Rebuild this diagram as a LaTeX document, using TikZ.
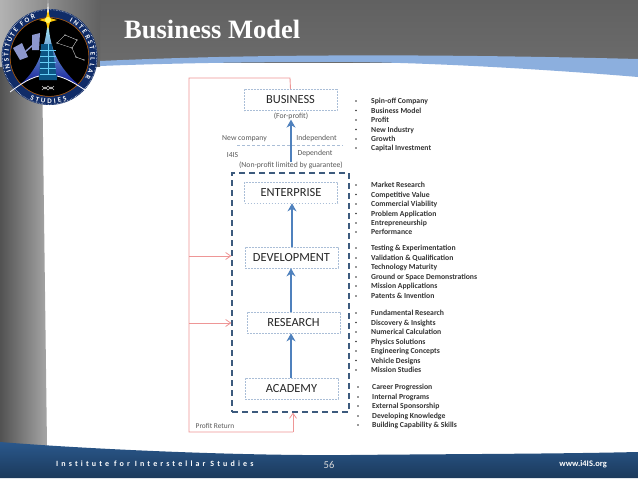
\documentclass[tikz,border=0pt]{standalone}
\usepackage{fontspec}
\setmainfont{Carlito}
\newfontfamily\titlefont{Liberation Serif}
\newfontfamily\spacedfont[LetterSpace=39,Ligatures=NoCommon]{Carlito}
\usetikzlibrary{arrows.meta,decorations.text}
\definecolor{slideblue}{RGB}{42,88,140}
\definecolor{stripeblue}{RGB}{140,175,222}
\definecolor{arrowblue}{RGB}{79,129,189}
\definecolor{boxblue}{RGB}{170,190,215}
\definecolor{frameblue}{RGB}{60,90,125}
\definecolor{returnred}{RGB}{238,150,150}
\definecolor{logonavy}{RGB}{16,44,104}
\definecolor{stationblue}{RGB}{140,150,205}
\tikzset{
  levelbox/.style={draw=boxblue, dash pattern=on 1.6pt off 1.4pt, line width=0.7pt, minimum width=93pt, minimum height=21pt, inner sep=0pt, font=\fontsize{12.4}{13}\selectfont, text=black!85},
  smalllabel/.style={font=\fontsize{7.7}{8}\selectfont, text=black!65, inner sep=0pt},
  itemlabel/.style={anchor=west, font=\fontsize{7.7}{8}\selectfont\bfseries, text=black!80, inner sep=0pt, text height=6.5pt, text depth=1pt},
  itemdot/.style={circle, fill=black!80, inner sep=0pt, minimum size=1.8pt},
  uparrow/.style={-{Stealth[length=8pt,width=9pt]}, line width=2.1pt, arrowblue},
  returnline/.style={returnred, line width=0.9pt},
  returnarrow/.style={returnred, line width=0.8pt, -{Straight Barb[length=5pt,width=7pt]}},
  ringtext/.style={postaction={decorate, decoration={text along path, text align=fit to path,
    text={|\fontsize{7}{8}\selectfont\bfseries\color{white}|#1}}}}
}
\begin{document}
\begin{tikzpicture}[x=1pt, y=-1pt]
  \useasboundingbox (0,0) rectangle (638,479);
  \fill[white] (0,0) rectangle (638,479);

  % slide background
  \shade[left color=black!68, right color=black!35] (0,60) -- (42,60) -- (47,446) -- (0,446) -- cycle;
  \shade[top color=black!62, bottom color=black!58] (100,0) rectangle (638,62);
  \shade[left color=black!30, right color=black!62] (0,0) rectangle (100,66);
  \fill[stripeblue] (100,61) .. controls (230,55) and (400,53) .. (638,59)
    -- (638,77) .. controls (530,68) and (400,61) .. (320,62) .. controls (230,62) and (150,64) .. (100,66) -- cycle;
  \shade[top color=slideblue, bottom color=slideblue!65!black] (0,442) .. controls (100,450) and (250,456) .. (350,455)
    .. controls (450,454) and (550,454) .. (638,452) -- (638,478) -- (0,478) -- cycle;

  % logo
  \fill[logonavy] (49.5,57) circle (48);
  \draw[white, densely dotted, line width=0.5pt] (49.5,57) circle (47.3);
  \fill[black] (49.5,57) circle (39);
  \draw[orange!70!black, line width=0.6pt] (49.5,57) circle (39.4);
  \shade[top color=white!70!cyan, bottom color=blue!55!black] (48,20) .. controls (50,45) and (54,66) .. (85,90)
    .. controls (70,80) and (60,75) .. (48,75) .. controls (36,75) and (26,80) .. (10,92) .. controls (32,78) and (44,60) .. (48,20) -- cycle;
  \draw[white, line width=0.8pt] (10,92) .. controls (26,80) and (36,75) .. (48,75) .. controls (60,75) and (70,80) .. (85,90);
  \fill[logonavy!80!cyan] (41,44) -- (52,44) -- (57,80) -- (39,80) -- cycle;
  \foreach \yv in {50,56,62,68,74} {
    \draw[cyan!60, line width=0.3pt] (40,\yv) -- (56,\yv);
  }
  \draw[cyan!60, line width=0.3pt] (48,44) -- (48,80);
  \fill[logonavy!80!cyan] (39,75) rectangle (57,80);
  \draw[white!80!black, line width=0.5pt] (42,86) -- (45,89) -- (48,86) -- (51,89) -- (54,86) (42,90) -- (45,87) -- (48,90) -- (51,87) -- (54,90);
  \fill[stationblue] (13,48) -- (22,43) -- (28,57) -- (20,60) -- cycle;
  \fill[stationblue] (32,35) -- (40,33) -- (39,50) -- (32,50) -- cycle;
  \draw[stationblue, line width=1.5pt] (25,52) -- (33,45);
  \draw[white, line width=0.3pt] (57,43) -- (65,35) -- (77,40) -- (72,48) -- (57,43) (72,48) -- (76,57) -- (84,60);
  \foreach \xv/\yv in {57/43, 65/35, 77/40, 72/48, 76/57, 84/60} {
    \fill[white] (\xv,\yv) circle (0.6);
  }
  \fill[white] (48,0) -- (49,14) -- (48,27) -- (47,14) -- cycle;
  \fill[orange!45!yellow] (39,20) -- (46,18) -- (48,10) -- (50,18) -- (57,20) -- (50,22) -- (48,30) -- (46,22) -- cycle;
  \fill[yellow!60!white] (48,20) circle (3);
  \path[ringtext={INSTITUTE FOR}] (49.5,57) ++(159:41) arc (159:250:41);
  \path[ringtext={INTERSTELLAR}] (49.5,57) ++(-61:41) arc (-61:30:41);
  \path[ringtext={STUDIES}] (49.5,57) ++(115:46.5) arc (115:68:46.5);

  % title and footer
  \node[anchor=west, inner sep=0pt, font=\titlefont\fontsize{26.5}{27}\selectfont\bfseries, text=white] (title) at (124,29) {Business Model};
  \node[anchor=west, inner sep=0pt, font=\spacedfont\fontsize{8}{9}\selectfont\bfseries, text=white] (institute) at (56,464) {Institute for Interstellar Studies};
  \node[inner sep=0pt, font=\fontsize{10.5}{11}\selectfont, text=black!15] (page) at (329,465) {56};
  \node[anchor=east, inner sep=0pt, font=\fontsize{8.5}{9}\selectfont\bfseries, text=white] (web) at (607,464) {www.i4IS.org};

  % levels
  \node[levelbox] (business) at (290.5,100) {BUSINESS};
  \node[levelbox] (enterprise) at (291,192.5) {ENTERPRISE};
  \node[levelbox] (development) at (291.5,257.5) {DEVELOPMENT};
  \node[levelbox] (research) at (293.5,322.5) {RESEARCH};
  \node[levelbox] (academy) at (291.5,388.5) {ACADEMY};
  \node[smalllabel] (forprofit) at (291,116) {(For-profit)};
  \node[smalllabel] (nonprofit) at (291,165.5) {(Non-profit limited by guarantee)};
  \node[smalllabel] (newcompany) at (244.5,139) {New company};
  \node[smalllabel] (independent) at (316.5,138) {Independent};
  \node[smalllabel] (dependent) at (315,153) {Dependent};
  \node[smalllabel] (i4is) at (232.5,155.5) {I4IS};
  \node[smalllabel, font=\fontsize{7.4}{8}\selectfont] (profitreturn) at (215,425.5) {Profit Return};
  \node[draw=frameblue, dash pattern=on 6pt off 4pt, line width=1.3pt, minimum width=117pt, minimum height=239pt, inner sep=0pt] (frame) at (290.5,292.5) {};
  \coordinate (splitleft) at (237,145);
  \coordinate (splitright) at (343,145);
  \draw[boxblue, densely dashed, line width=0.5pt] (splitleft) -- (splitright);

  \draw[uparrow] (academy.north -| 291,0) -- (research.south -| 291,0);
  \draw[uparrow] (research.north -| 291,0) -- (development.south -| 291,0);
  \draw[uparrow] (development.north -| 292,0) -- (enterprise.south -| 292,0);
  \draw[uparrow] (nonprofit.north) -- (forprofit.south);

  % profit return
  \coordinate (returntop) at (290,78);
  \coordinate (returncorner) at (189,78);
  \coordinate (returnlow) at (189,432);
  \coordinate (returnend) at (293,432);
  \coordinate (branchdev) at (189,256);
  \coordinate (branchres) at (189,323);
  \draw[returnline] (business.north) -- (returntop) -- (returncorner) -- (returnlow) -- (returnend);
  \draw[returnarrow] (returnend) -- (returnend |- frame.south);
  \draw[returnarrow] (branchdev) -- (branchdev -| frame.west);
  \draw[returnarrow] (branchres) -- (branchres -| frame.west);

  % lists
  \foreach \yv/\xl in {101/Spin-off Company, 110.5/Business Model, 120/Profit, 129.5/New Industry, 139/Growth, 148/Capital Investment,
                       185/Market Research, 194.5/Competitive Value, 204/Commercial Viability, 213.5/Problem Application, 223/Entrepreneurship, 232/Performance,
                       248/Testing \& Experimentation, 258/Validation \& Qualification, 267/Technology Maturity, 277/Ground or Space Demonstrations, 286/Mission Applications, 296/Patents \& Invention,
                       313/Fundamental Research, 322.5/Discovery \& Insights, 332/Numerical Calculation, 341.5/Physics Solutions, 351/Engineering Concepts, 360.5/Vehicle Designs, 370/Mission Studies} {
    \node[itemdot] (dot\yv) at (356,\yv) {};
    \node[itemlabel] (item\yv) at (371,\yv) {\xl};
  }
  \foreach \yv/\xl in {387/Career Progression, 397/Internal Programs, 406/External Sponsorship, 416/Developing Knowledge, 425/Building Capability \& Skills} {
    \node[itemdot] (dot\yv) at (358,\yv) {};
    \node[itemlabel] (item\yv) at (372,\yv) {\xl};
  }
\end{tikzpicture}
\end{document}
